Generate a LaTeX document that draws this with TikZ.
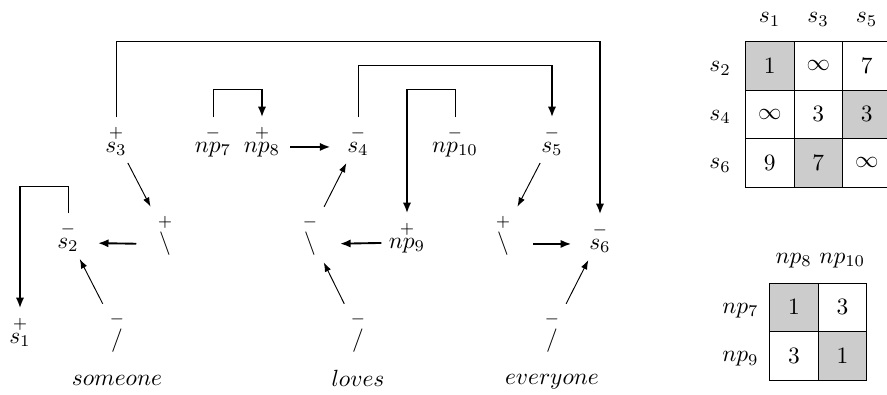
\documentclass[tikz,border=0pt]{standalone}
\usepackage{amsmath,amssymb}
\usetikzlibrary{arrows.meta}

\newcommand{\pol}[2]{\overset{#1}{#2}}

\begin{document}
\begin{tikzpicture}[x=0.015cm,y=-0.015cm,
    tok/.style={anchor=base,inner sep=3pt},
    axon/.style={thin,-{Latex[length=4pt,width=2.8pt]}},
    link/.style={thick,-{Latex[length=4.5pt,width=3.5pt]}},
    cell/.style={draw,thin,anchor=north west,minimum size=0.7275cm,inner sep=0pt}]
  \useasboundingbox (0,0) rectangle (887,394);

  % proof structure
  \node[tok] (s1)   at (20,343)  {$\pol{+}{s_1}$};
  \node[tok] (s2)   at (68,248)  {$\pol{-}{s_2}$};
  \node[tok] (s3)   at (116,152) {$\pol{+}{s_3}$};
  \node[tok] (np7)  at (213,152) {$\pol{-}{np_7}$};
  \node[tok] (np8)  at (262,152) {$\pol{+}{np_8}$};
  \node[tok] (s4)   at (358,152) {$\pol{-}{s_4}$};
  \node[tok] (np10) at (455,152) {$\pol{-}{np_{10}}$};
  \node[tok] (s5)   at (552,152) {$\pol{-}{s_5}$};
  \node[tok] (np9)  at (407,248) {$\pol{+}{np_9}$};
  \node[tok] (s6)   at (600,249) {$\pol{-}{s_6}$};

  \node[tok] (b1) at (165,249) {$\pol{+}{\backslash}$};
  \node[tok] (b2) at (310,249) {$\pol{-}{\backslash}$};
  \node[tok] (b3) at (503,249) {$\pol{+}{\backslash}$};
  \node[tok] (f1) at (117,346) {$\pol{-}{/}$};
  \node[tok] (f2) at (358,346) {$\pol{-}{/}$};
  \node[tok] (f3) at (552,346) {$\pol{-}{/}$};

  \node[tok] (w1) at (117,385) {$someone$};
  \node[tok] (w2) at (358,386) {$loves$};
  \node[tok] (w3) at (552,384) {$everyone$};

  % links
  \draw[axon] (s3) -- (b1);
  \draw[axon] (f1) -- (s2);
  \draw[axon] (f2) -- (b2);
  \draw[axon] (b2) -- (s4);
  \draw[axon] (s5) -- (b3);
  \draw[axon] (f3) -- (s6);

  \draw[link,shorten <=6pt,shorten >=5pt] (b1.mid west) -- (s2.mid east);
  \draw[link,shorten <=1pt,shorten >=4pt] (np8.mid east) -- (s4.mid west);
  \draw[link,shorten <=0pt,shorten >=6.5pt] (np9.mid west) -- (b2.mid east);
  \draw[link,shorten <=6.5pt,shorten >=4.5pt] (b3.mid east) -- (s6.mid west);

  % axiom links
  \coordinate (lv1) at (0,41);
  \coordinate (lv2) at (0,65);
  \coordinate (lv3) at (0,89);
  \coordinate (lv4) at (0,186);
  \draw (s3.north) |- (s6.north |- lv1);
  \draw[link] (s6.north |- lv1) -- (s6.north);
  \draw (s4.north) |- (s5.north |- lv2);
  \draw[link] (s5.north |- lv2) -- (s5.north);
  \draw (np7.north) |- (np8.north |- lv3);
  \draw[link] (np8.north |- lv3) -- (np8.north);
  \draw (np10.north) |- (np9.north |- lv3);
  \draw[link] (np9.north |- lv3) -- (np9.north);
  \draw (s2.north) |- (s1.north |- lv4);
  \draw[link] (s1.north |- lv4) -- (s1.north);

  % s tables
  \foreach \c/\h in {0/1,1/3,2/5}
    \node[anchor=base] (cs\h) at (769.5+\c*48.5,23) {$s_{\h}$};
  \foreach \r/\h in {0/2,1/4,2/6}
    \node[anchor=base] (rs\h) at (720,71.7+\r*48.5) {$s_{\h}$};
  \foreach \r/\c/\v/\f in {0/0/1/gray!40,0/1/\infty/white,0/2/7/white,
                           1/0/\infty/white,1/1/3/white,1/2/3/gray!40,
                           2/0/9/white,2/1/7/gray!40,2/2/\infty/white}
    \node[cell,fill=\f] (d\r\c) at (745+\c*48.5,41+\r*48.5) {$\v$};

  % np table
  \node[anchor=base] (cn8)  at (793.8,263) {$np_8$};
  \node[anchor=base] (cn10) at (842.3,263) {$np_{10}$};
  \node[anchor=base] (rn7)  at (740.5,313) {$np_7$};
  \node[anchor=base] (rn9)  at (740.5,361.5) {$np_9$};
  \foreach \r/\c/\v/\f in {0/0/1/gray!40,0/1/3/white,
                           1/0/3/white,1/1/1/gray!40}
    \node[cell,fill=\f] (e\r\c) at (769.3+\c*48.5,282.7+\r*48.5) {$\v$};
\end{tikzpicture}
\end{document}
